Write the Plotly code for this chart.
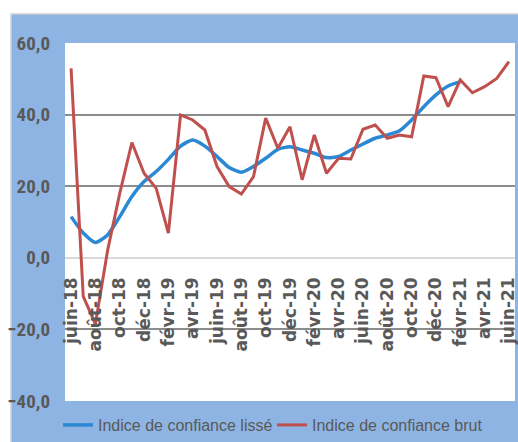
import plotly.graph_objects as go

months = ["juin-18", "juil-18", "août-18", "sept-18", "oct-18", "nov-18", "déc-18",
          "janv-19", "févr-19", "mars-19", "avr-19", "mai-19", "juin-19", "juil-19",
          "août-19", "sept-19", "oct-19", "nov-19", "déc-19", "janv-20", "févr-20",
          "mars-20", "avr-20", "mai-20", "juin-20", "juil-20", "août-20", "sept-20",
          "oct-20", "nov-20", "déc-20", "janv-21", "févr-21", "mars-21", "avr-21",
          "mai-21", "juin-21"]

lisse = [11.5, 6.9, 4.3, 6.4, 11.5, 17.1, 21.3, 24.1, 27.5, 31.2, 32.9, 31.2,
         28.3, 25.2, 23.9, 25.5, 27.8, 30.3, 31.0, 30.1, 29.2, 28.0, 28.3, 30.1,
         31.8, 33.4, 34.3, 35.5, 38.5, 42.2, 45.5, 48.0, 49.2, None, None, None, None]

brut = [52.9, -10.8, -18.5, 2.0, 18.0, 32.2, 23.6, 19.4, 6.9, 39.9, 38.5, 35.7,
        25.5, 19.9, 17.8, 22.7, 39.0, 30.6, 36.6, 21.8, 34.3, 23.6, 27.8, 27.6,
        35.9, 37.1, 33.4, 34.3, 33.8, 50.8, 50.3, 42.2, 49.7, 46.1, 47.8, 50.1, 54.8]

tick_labels = months[::2]
y_ticks = [-40, -20, 0, 20, 40, 60]

W, H = 518, 442
def px(x):
    return x / W
def py(y):
    return 1 - y / H

fig = go.Figure()
fig.add_trace(go.Scatter(x=months, y=lisse, mode="lines", name="Indice de confiance lissé",
                         line=dict(color="#2B88D3", width=3.5, shape="spline", smoothing=0.6),
                         connectgaps=False))
fig.add_trace(go.Scatter(x=months, y=brut, mode="lines", name="Indice de confiance brut",
                         line=dict(color="#C0504D", width=3)))

# outer blue chart area
fig.add_shape(type="rect", xref="paper", yref="paper", x0=px(11), x1=1.02, y0=-0.02, y1=py(14),
              fillcolor="#8EB4E3", line=dict(color="#D0D0D0", width=1.5), layer="below")
# white plot area
fig.add_shape(type="rect", xref="paper", yref="paper", x0=px(65), x1=px(515), y0=py(401), y1=py(43),
              fillcolor="white", line=dict(width=0), layer="below")

fig.update_layout(
    width=W, height=H,
    margin=dict(l=0, r=0, t=0, b=0, autoexpand=False),
    paper_bgcolor="white",
    plot_bgcolor="white",
    separators=", ",
    showlegend=True,
    legend=dict(orientation="h", x=px(58), xanchor="left", y=py(425), yanchor="middle",
                bgcolor="rgba(0,0,0,0)", itemwidth=30, tracegroupgap=0,
                entrywidth=169, entrywidthmode="pixels",
                font=dict(family="Liberation Sans, Arial", size=16, color="#595959")),
    xaxis=dict(domain=[px(65), px(515)], type="category", anchor="free", position=py(258),
               automargin=False,
               categoryorder="array", categoryarray=months,
               tickmode="array", tickvals=tick_labels, ticktext=tick_labels,
               tickangle=-90, ticks="", ticklabelstandoff=15,
               showgrid=False, showline=False, zeroline=False,
               tickfont=dict(family="DejaVu Sans, Verdana, Arial", size=17, color="#595959",
                             weight="bold"),
               range=[-0.5, 36.5]),
    yaxis=dict(domain=[py(401), py(43)], range=[-40, 60], tickvals=y_ticks,
               automargin=False,
               tickformat=".1f", showgrid=True, gridcolor="#8C8C8C", gridwidth=1.5,
               zeroline=True, zerolinecolor="#D9D9D9", zerolinewidth=2,
               showline=False, ticks="", ticklabelstandoff=14,
               tickfont=dict(family="Liberation Sans Narrow, Roboto Condensed, DejaVu Sans Condensed, Arial",
                             size=19, color="#595959", weight="bold")),
)

fig.write_html("out.html", config={"displayModeBar": False},
               post_script="document.body.style.margin='0';document.body.style.padding='0';")
